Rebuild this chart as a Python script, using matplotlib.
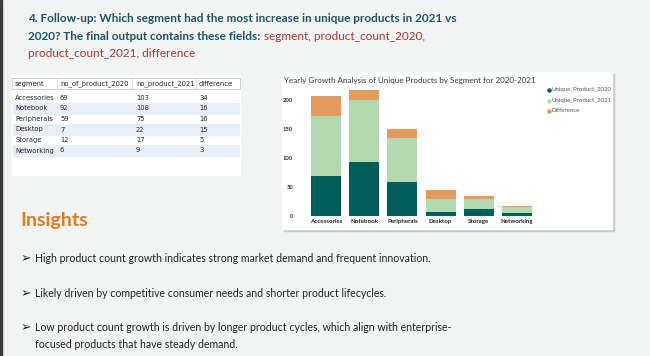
import matplotlib
matplotlib.use("Agg")
import numpy as np
from matplotlib import pyplot as plt
from matplotlib.patches import Rectangle

# data
segments = ["Accessories", "Notebook", "Peripherals", "Desktop", "Storage", "Networking"]
count_2020 = [69, 92, 59, 7, 12, 6]
count_2021 = [103, 108, 75, 22, 17, 9]
difference = [34, 16, 16, 15, 5, 3]
table_header = ["segment", "no_of_product_2020", "no_product_2021", "difference"]
series_names = ["Unique_Product_2020", "Unique_Product_2021", "Difference"]
series_colors = ["#025e58", "#b4d8b0", "#e49a5c"]
y_ticks = [0, 50, 100, 150, 200]

title_lines = ["4. Follow-up: Which segment had the most increase in unique products in 2021 vs",
               "2020? The final output contains these fields: "]
title_fields = ["segment, product_count_2020,", "product_count_2021, difference"]
insights = [["High product count growth indicates strong market demand and frequent innovation."],
            ["Likely driven by competitive consumer needs and shorter product lifecycles."],
            ["Low product count growth is driven by longer product cycles, which align with enterprise-",
             "focused products that have steady demand."]]

W, H = 650, 356
fig = plt.figure(figsize=(W / 100, H / 100), dpi=100, facecolor="#f2f3f3")
bg = fig.add_axes([0, 0, 1, 1])
bg.set_xlim(0, W)
bg.set_ylim(H, 0)
bg.axis("off")

head = ["Lato", "DejaVu Sans"]
body = ["Lato", "DejaVu Sans"]

# left edge
bg.add_patch(Rectangle((0, 0), 2, H, color="#3a3a3a"))

# question text
teal = "#1d5561"
red = "#a53a33"
bg.text(28, 22, title_lines[0], family=head, weight="bold", fontsize=8.5, color=teal)
t2 = bg.text(28, 40, title_lines[1], family=head, weight="bold", fontsize=8.5, color=teal)
fig.canvas.draw()
ext = t2.get_window_extent(fig.canvas.get_renderer())
bg.text(ext.x1 + 1, 40, title_fields[0], family=head, fontsize=8.5, color=red)
bg.text(28, 57, title_fields[1], family=head, fontsize=8.5, color=red)

# sql result table
bg.add_patch(Rectangle((12, 75), 228, 100, color="white"))
col_x = [15, 60, 136, 199]
col_sep = [57, 132, 196, 240]
row_h = 10.5
head_y = 84
bg.add_patch(Rectangle((12, 78), 228, 11, facecolor="white", edgecolor="#c8c8c8", lw=0.6))
for x, h in zip(col_x, table_header):
    bg.text(x, head_y, h, fontsize=4.9, color="#222", va="center")
rows = list(zip(segments, count_2020, count_2021, difference))
for i, row in enumerate(rows):
    yc = head_y + 14 + i * row_h
    if i % 2 == 1:
        bg.add_patch(Rectangle((13, yc - row_h / 2), 226, row_h, color="#e8eef8"))
    for x, v in zip(col_x, row):
        bg.text(x, yc, str(v), fontsize=4.9, color="#222", va="center")
for x in col_sep:
    bg.plot([x, x], [78, 89], color="#d0d0d0", lw=0.5)

# chart card
bg.add_patch(Rectangle((284, 74), 330, 157, color="#c9c9c9"))
bg.add_patch(Rectangle((282, 72), 330, 157, color="white"))
bg.text(284, 81, "Yearly Growth Analysis of Unique Products by Segment for 2020-2021",
        family=head, fontsize=5.75, color="#333", va="center")
for i, (name, c) in enumerate(zip(series_names, series_colors)):
    yy = 90 + i * 10.5
    bg.scatter([549], [yy], s=5, color=c, zorder=3)
    bg.text(552, yy, name, family=head, fontsize=4.4, color="#555", va="center")

ax = fig.add_axes([307 / W, 1 - 216 / H, 229 / W, 128 / H])
x = np.arange(len(segments))
b1 = np.array(count_2020)
b2 = b1 + np.array(count_2021)
ax.bar(x, count_2020, width=0.79, color=series_colors[0])
ax.bar(x, count_2021, width=0.79, bottom=b1, color=series_colors[1])
ax.bar(x, difference, width=0.79, bottom=b2, color=series_colors[2])
ax.set_xlim(-0.5, len(segments) - 0.5)
ax.set_ylim(0, 220)
ax.set_yticks(y_ticks)
ax.set_yticklabels([str(v) for v in y_ticks], family=head, fontsize=4.2, color="#333", weight="bold")
ax.set_xticks(x)
ax.set_xticklabels(segments, family=head, fontsize=4.4, color="#222", weight="bold")
ax.tick_params(length=0, axis="y", pad=10)
ax.tick_params(length=0, axis="x", pad=2.5)
for s in ax.spines.values():
    s.set_visible(False)
ax.patch.set_alpha(0)

# insights
bg.text(20, 226, "Insights", family=head, weight="bold", fontsize=14, color="#e17a1c")
ys = [262, 297, 331]
for y, lines in zip(ys, insights):
    bg.text(21, y, "\u27a2", family=["DejaVu Sans"], fontsize=9, color="#222")
    for j, s in enumerate(lines):
        bg.text(35, y + j * 17.5, s, family=body, fontsize=7.6, color="#222")

fig.savefig("out.png", dpi=100, facecolor=fig.get_facecolor())
